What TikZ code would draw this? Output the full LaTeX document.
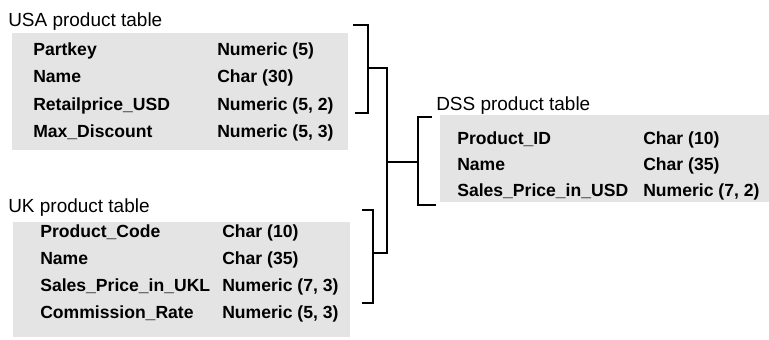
\documentclass[tikz,border=0pt]{standalone}
\usepackage{fontspec}
\setmainfont{Liberation Sans}
\usepackage{tikz}
\usetikzlibrary{positioning,calc}
\usepackage{xcolor}
\definecolor{fshade}{HTML}{E4E4E4}

\begin{document}
\begin{tikzpicture}[x=1cm,y=1cm,
  tbltitle/.style={anchor=base west,inner sep=0pt,font=\fontsize{13.5}{16}\selectfont},
  field/.style={anchor=base west,inner sep=0pt,font=\fontsize{12.5}{15}\selectfont\bfseries},
  shade/.style={fill=fshade,draw=none,inner sep=0pt,anchor=south west},
  link/.style={line width=0.9pt}]
\useasboundingbox (0,0) rectangle (19.225,8.475);
% grey table backgrounds
\node[shade,minimum width=8.4cm,minimum height=2.925cm] (usabox) at (0.3,4.725) {};
\node[shade,minimum width=8.425cm,minimum height=2.875cm] (ukbox) at (0.325,0.05) {};
\node[shade,minimum width=8.225cm,minimum height=2.175cm] (dssbox) at (11.0,3.425) {};
% USA product table
\node[tbltitle] (usa) at (0.2,7.825) {USA product table};
\node[field] (usa1) at (0.825,7.1) {Partkey};
\node[field] (usa2) at (0.825,6.41) {Name};
\node[field] (usa3) at (0.825,5.72) {Retailprice\_USD};
\node[field] (usa4) at (0.825,5.03) {Max\_Discount};
\node[field] (usa1t) at (5.425,7.1) {Numeric (5)};
\node[field] (usa2t) at (5.425,6.41) {Char (30)};
\node[field] (usa3t) at (5.425,5.72) {Numeric (5, 2)};
\node[field] (usa4t) at (5.425,5.03) {Numeric (5, 3)};
% UK product table
\node[tbltitle] (uk) at (0.2,3.175) {UK product table};
\node[field] (uk1) at (1.0,2.55) {Product\_Code};
\node[field] (uk2) at (1.0,1.87) {Name};
\node[field] (uk3) at (1.0,1.19) {Sales\_Price\_in\_UKL};
\node[field] (uk4) at (1.0,0.51) {Commission\_Rate};
\node[field] (uk1t) at (5.55,2.55) {Char (10)};
\node[field] (uk2t) at (5.55,1.87) {Char (35)};
\node[field] (uk3t) at (5.55,1.19) {Numeric (7, 3)};
\node[field] (uk4t) at (5.55,0.51) {Numeric (5, 3)};
% DSS product table
\node[tbltitle] (dss) at (10.9,5.725) {DSS product table};
\node[field] (dss1) at (11.425,4.875) {Product\_ID};
\node[field] (dss2) at (11.425,4.215) {Name};
\node[field] (dss3) at (11.425,3.555) {Sales\_Price\_in\_USD};
\node[field] (dss1t) at (16.075,4.875) {Char (10)};
\node[field] (dss2t) at (16.075,4.215) {Char (35)};
\node[field] (dss3t) at (16.075,3.555) {Numeric (7, 2)};
% bracket corners
\coordinate (usaTop) at (8.825,7.85);
\coordinate (usaBot) at (8.875,5.65);
\coordinate (usaMid) at (9.2,6.775);
\coordinate (ukTop) at (9.05,3.225);
\coordinate (ukBot) at (9.05,0.9);
\coordinate (ukMid) at (9.325,2.15);
\coordinate (join) at (9.675,4.425);
\coordinate (dssTop) at (10.8,5.55);
\coordinate (dssBot) at (10.9,3.35);
\coordinate (dssMid) at (10.45,4.425);
\draw[link] (usaTop) -| (usaMid) |- (usaBot);
\draw[link] (ukTop) -| (ukMid) |- (ukBot);
\draw[link] (dssTop) -| (dssMid) |- (dssBot);
\draw[link] (usaMid) -| (join);
\draw[link] (ukMid) -| (join);
\draw[link] (join) -- (dssMid);
\end{tikzpicture}
\end{document}
